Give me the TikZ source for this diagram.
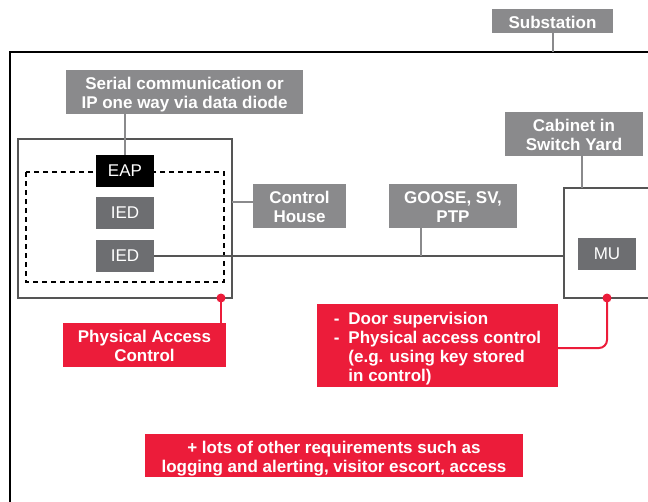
\documentclass[tikz,border=0pt]{standalone}
\usepackage{fontspec}
\setmainfont{Liberation Sans}
\definecolor{lblgray}{HTML}{8A8A8C}
\definecolor{devgray}{HTML}{6D6E71}
\definecolor{alertred}{HTML}{EC1C3A}
\definecolor{boxline}{HTML}{555555}
% centred block of lines, set a little low in its box
\newcommand\lowtext[2][3pt]{\raisebox{-#1}[\height][\depth]{%
  \renewcommand{\arraystretch}{1}\begin{tabular}{@{}c@{}}#2\end{tabular}}}
\tikzset{
  lbl/.style={fill=lblgray, text=white, font=\fontsize{17}{19}\selectfont\bfseries,
              align=center, inner sep=0pt},
  redlbl/.style={lbl, fill=alertred},
  device/.style={fill=devgray, text=white, font=\fontsize{17}{19}\selectfont,
                 minimum width=58pt, minimum height=32pt, inner sep=0pt},
  tie/.style={draw=lblgray, line width=2pt},
  wire/.style={draw=boxline, line width=1.6pt},
  housing/.style={draw=boxline, line width=1.6pt, inner sep=0pt},
  redwire/.style={draw=alertred, line width=2pt},
  reddot/.style={circle, fill=alertred, minimum size=9pt, inner sep=0pt},
}
\begin{document}
\begin{tikzpicture}[x=1pt, y=-1pt]
\useasboundingbox (0,0) rectangle (648,501);

% substation boundary (open to the right and bottom)
\draw[line width=2pt] (10,520) -- (10,52) -- (670,52);
\coordinate (subtap) at (552.5,52);

% labels
\node[lbl, minimum width=121pt, minimum height=24pt] (subst) at (552.5,21) {\lowtext[4pt]{Substation}};
\node[lbl, minimum width=237pt, minimum height=44pt] (serial) at (184.5,92)
  {\lowtext{Serial communication or\\IP one way via data diode}};
\node[lbl, minimum width=138pt, minimum height=44pt] (cablbl) at (574,134)
  {\lowtext{Cabinet in\\Switch Yard}};
\node[lbl, minimum width=93pt, minimum height=44pt] (houselbl) at (299.5,206)
  {\lowtext{Control\\House}};
\node[lbl, minimum width=128pt, minimum height=44pt] (goose) at (453,206)
  {\lowtext{GOOSE, SV,\\PTP}};

% control house
\node[housing, minimum width=214pt, minimum height=159pt] (house) at (125,218.5) {};
\draw[black, line width=1.5pt, dash pattern=on 5pt off 4pt] (26,172) rectangle (224,282);
\node[device, fill=black] (eap) at (125,171) {\lowtext[1.5pt]{EAP}};
\node[device] (ied1) at (125,213) {\lowtext[1.5pt]{IED}};
\node[device] (ied2) at (125,256) {\lowtext[1.5pt]{IED}};

% switch yard cabinet
\node[housing, minimum width=110pt, minimum height=110pt] (cab) at (619,243) {};
\node[device] (mu) at (607,254) {\lowtext[1.5pt]{MU}};

% connectors
\draw[tie] (subst.south) -- (subtap);
\draw[tie] (serial.south -| eap.north) -- (eap.north);
\coordinate (cabtap) at (582,188);
\draw[tie] (cabtap |- cablbl.south) -- (cabtap);
\coordinate (housetap) at (232,202);
\draw[tie] (housetap) -- (housetap -| houselbl.west);
\coordinate (bus) at (564,256);
\draw[wire] (ied2.east) -- (bus);
\coordinate (goosetap) at (421,256);
\draw[tie] (goosetap |- goose.south) -- (goosetap);

% physical security notes
\node[redlbl, minimum width=163pt, minimum height=44pt] (pac) at (144.5,345)
  {\lowtext{Physical Access\\Control}};
\node[redlbl, minimum width=241pt, minimum height=83pt] (door) at (437.5,345.5)
  {\raisebox{-3.5pt}[\height][\depth]{\renewcommand{\arraystretch}{1}%
   \begin{tabular}{@{}l@{\hspace{9pt}}l@{}}
   - & Door supervision\\
   - & Physical access control\\
     & (e.g. using key stored\\
     & in control)
   \end{tabular}}};
\node[redlbl, minimum width=378pt, minimum height=43pt] (other) at (334,455.5)
  {\lowtext[3.5pt]{+ lots of other requirements such as\\logging and alerting, visitor escort, access}};

\node[reddot] (dot1) at (221,298) {};
\node[reddot] (dot2) at (607,298) {};
\draw[redwire] (dot1.center) -- (dot1.center |- pac.north);
\draw[redwire, rounded corners=8pt] (dot2.center) -- (dot2.center |- 0,348) -- (door.east |- 0,348);
\end{tikzpicture}
\end{document}
